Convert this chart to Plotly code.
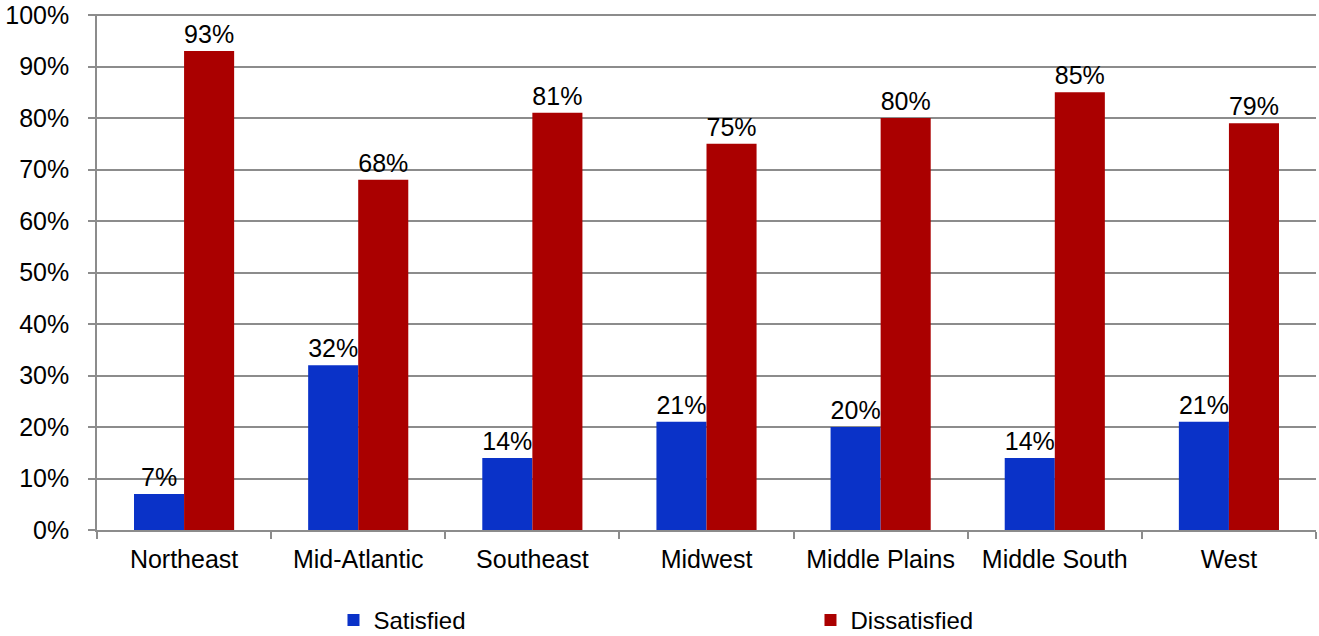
import plotly.graph_objects as go

regions = ["Northeast", "Mid-Atlantic", "Southeast", "Midwest", "Middle Plains", "Middle South", "West"]
satisfied = [7, 32, 14, 21, 20, 14, 21]
dissatisfied = [93, 68, 81, 75, 80, 85, 79]
y_ticks = [0, 10, 20, 30, 40, 50, 60, 70, 80, 90, 100]

font_family = "Liberation Sans, Arial, sans-serif"

fig = go.Figure()
fig.add_trace(go.Bar(
    x=regions, y=satisfied, name="Satisfied",
    marker=dict(color="#0a32c8", line=dict(width=0)),
    text=[f"{v}%" for v in satisfied], textposition="outside",
    textfont=dict(size=25, color="#000000", family=font_family),
    constraintext="none", cliponaxis=False,
))
fig.add_trace(go.Bar(
    x=regions, y=dissatisfied, name="Dissatisfied",
    marker=dict(color="#aa0000", line=dict(width=0)),
    text=[f"{v}%" for v in dissatisfied], textposition="outside",
    textfont=dict(size=25, color="#000000", family=font_family),
    constraintext="none", cliponaxis=False,
))

fig.update_layout(
    width=1319, height=636,
    margin=dict(l=97, r=3, t=14, b=106, autoexpand=False),
    paper_bgcolor="white", plot_bgcolor="white",
    barmode="group", bargap=0.425, bargroupgap=0,
    font=dict(family=font_family, size=24, color="#000000"),
    showlegend=True,
    legend=dict(
        orientation="h", x=0.194, xanchor="left", y=-0.175, yanchor="middle",
        entrywidth=432, entrywidthmode="pixels",
        font=dict(size=24, family=font_family), itemwidth=30,
        bgcolor="rgba(0,0,0,0)",
    ),
)
fig.update_yaxes(
    range=[0, 100.2], tickvals=y_ticks, ticktext=[f"{v}%" for v in y_ticks],
    showgrid=True, gridcolor="#8c8c8c", gridwidth=1.5,
    showline=True, linecolor="#8c8c8c", linewidth=1.5,
    ticks="outside", ticklen=7, tickcolor="#8c8c8c", tickwidth=1.5,
    zeroline=False, tickfont=dict(size=25), automargin=False,
    ticklabelstandoff=14, ticklabeloverflow="allow",
)
fig.update_xaxes(
    showline=True, linecolor="#8c8c8c", linewidth=1.5,
    ticks="outside", tickson="boundaries", ticklen=7, tickcolor="#8c8c8c", tickwidth=1.5,
    tickfont=dict(size=25), showgrid=False, automargin=False,
    ticklabelstandoff=6, ticklabeloverflow="allow",
)

# remove the default 8px page margin so the figure fills the window exactly
fig.write_html(
    "out.html",
    config={"displayModeBar": False},
    post_script="document.body.style.margin='0px';",
)
